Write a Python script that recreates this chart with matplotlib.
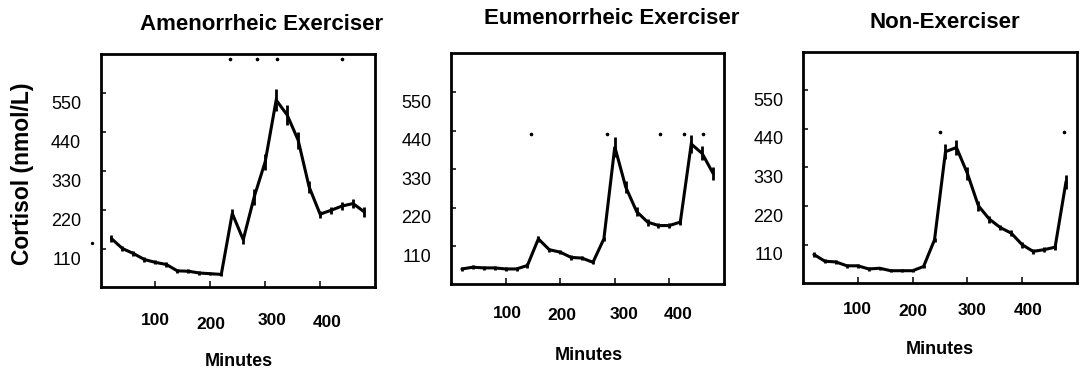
import matplotlib
matplotlib.use("Agg")
import matplotlib.pyplot as plt
from matplotlib.transforms import ScaledTranslation

plt.rcParams['font.family'] = ['Liberation Sans', 'DejaVu Sans']

# ---- data ----
minutes = [20, 40, 60, 80, 100, 120, 140, 160, 180, 200, 220, 240,
           260, 280, 300, 320, 340, 360, 380, 400, 420, 440, 460, 480]

amen_cortisol = [140, 112, 98, 81, 73, 67, 49, 48, 43, 41, 39, 211,
                 137, 258, 357, 531, 489, 418, 286, 209, 220, 232, 239, 216]
amen_err = [10, 8, 8, 6, 6, 6, 6, 5, 5, 5, 5, 14,
            12, 22, 22, 30, 28, 24, 16, 10, 10, 10, 12, 14]
amen_sig = [235, 285, 321, 439]

eumen_cortisol = [45, 50, 48, 48, 45, 45, 55, 131, 100, 93, 78, 76,
                  64, 131, 394, 279, 209, 179, 169, 169, 179, 402, 375, 318]
eumen_err = [6, 5, 5, 5, 5, 5, 6, 8, 6, 6, 6, 6,
             6, 6, 28, 18, 12, 10, 8, 8, 8, 25, 20, 18]
eumen_sig = [146, 285, 382, 426, 461]

nonex_cortisol = [82, 63, 61, 50, 50, 41, 43, 36, 36, 36, 48, 124,
                  375, 387, 313, 221, 183, 159, 143, 110, 91, 96, 103, 290]
nonex_err = [8, 6, 6, 6, 6, 6, 5, 5, 5, 5, 5, 6,
             22, 22, 18, 14, 10, 8, 8, 8, 8, 8, 8, 20]
nonex_sig = [250, 476]

titles = ["Amenorrheic Exerciser", "Eumenorrheic Exerciser", "Non-Exerciser"]
y_ticks = [110, 220, 330, 440, 550]
y_ticklabels = ["110", "220", "330", "440", "550"]
x_ticks = [100, 200, 300, 400]
x_ticklabels = ["100", "200", "300", "400"]

# ---- figure ----
W, H = 1079, 376
fig = plt.figure(figsize=(W / 100, H / 100), dpi=100)

def px_axes(left, right, top, bottom):
    return fig.add_axes([left / W, (H - bottom) / H, (right - left) / W, (bottom - top) / H])

panels = [
    dict(box=(100.5, 375, 54, 287), ylim=(3.5, 661), data=amen_cortisol, err=amen_err,
         sig=amen_sig, sig_y=646, title_xy=(262, 25), min_xy=(239, 361),
         xpad=(0, 1, 7, 7), ypadoff=(0, -4, 0, -2)),
    dict(box=(451, 724, 53, 284), ylim=(2, 662), data=eumen_cortisol, err=eumen_err,
         sig=eumen_sig, sig_y=432, title_xy=(612, 19), min_xy=(589, 355),
         xpad=(2, 2, 9, 9), ypadoff=(0, -2, -1, -1)),
    dict(box=(803, 1077, 52, 283), ylim=(1, 659), data=nonex_cortisol, err=nonex_err,
         sig=nonex_sig, sig_y=432, title_xy=(945, 23), min_xy=(940, 349),
         xpad=(0, 0, 5, 6), ypadoff=(0, -2, -1, -1)),
]
x_label_pad = [19, 16, 14]

for i, p in enumerate(panels):
    ax = px_axes(*p['box'])
    ax.errorbar(minutes, p['data'], yerr=p['err'], color='black', lw=2.2,
                elinewidth=2.0, capsize=0, solid_capstyle='round', solid_joinstyle='miter')
    ax.plot(p['sig'], [p['sig_y']] * len(p['sig']), linestyle='none', marker='o',
            markersize=1.6, color='black')
    ax.set_xlim(0, 500)
    ax.set_ylim(*p['ylim'])
    for s in ax.spines.values():
        s.set_linewidth(2.0)
    ax.set_xticks(x_ticks)
    ax.set_xticklabels(x_ticklabels, fontsize=12.5, fontweight='bold')
    ax.set_yticks(y_ticks)
    ax.set_yticklabels(y_ticklabels, fontsize=13)
    ax.tick_params(axis='x', direction='in', length=4.5, width=1.1, pad=x_label_pad[i])
    ax.tick_params(axis='y', direction='in', length=3.6, width=1.1, pad=14)
    for lab, dx, dy in zip(ax.get_xticklabels(), p['xpad'], p['ypadoff']):
        lab.set_transform(lab.get_transform() + ScaledTranslation(dx / 100, dy / 100, fig.dpi_scale_trans))
    for lab in ax.get_yticklabels():
        lab.set_transform(lab.get_transform() + ScaledTranslation(0, -9 / 100, fig.dpi_scale_trans))
    if i == 0:
        ax.plot([-15], [129], linestyle='none', marker='o', markersize=1.4,
                color='black', clip_on=False)
    tx, ty = p['title_xy']
    fig.text(tx / W, (H - ty) / H, titles[i], ha='center', va='center',
             fontsize=16, fontweight='bold')
    mx, my = p['min_xy']
    fig.text(mx / W, (H - my) / H, "Minutes", ha='center', va='center',
             fontsize=13, fontweight='bold')

fig.text(23 / W, (H - 174) / H, "Cortisol (nmol/L)", rotation=90, ha='center', va='center',
         fontsize=16.5, fontweight='bold')

fig.savefig("out.png", dpi=100)
